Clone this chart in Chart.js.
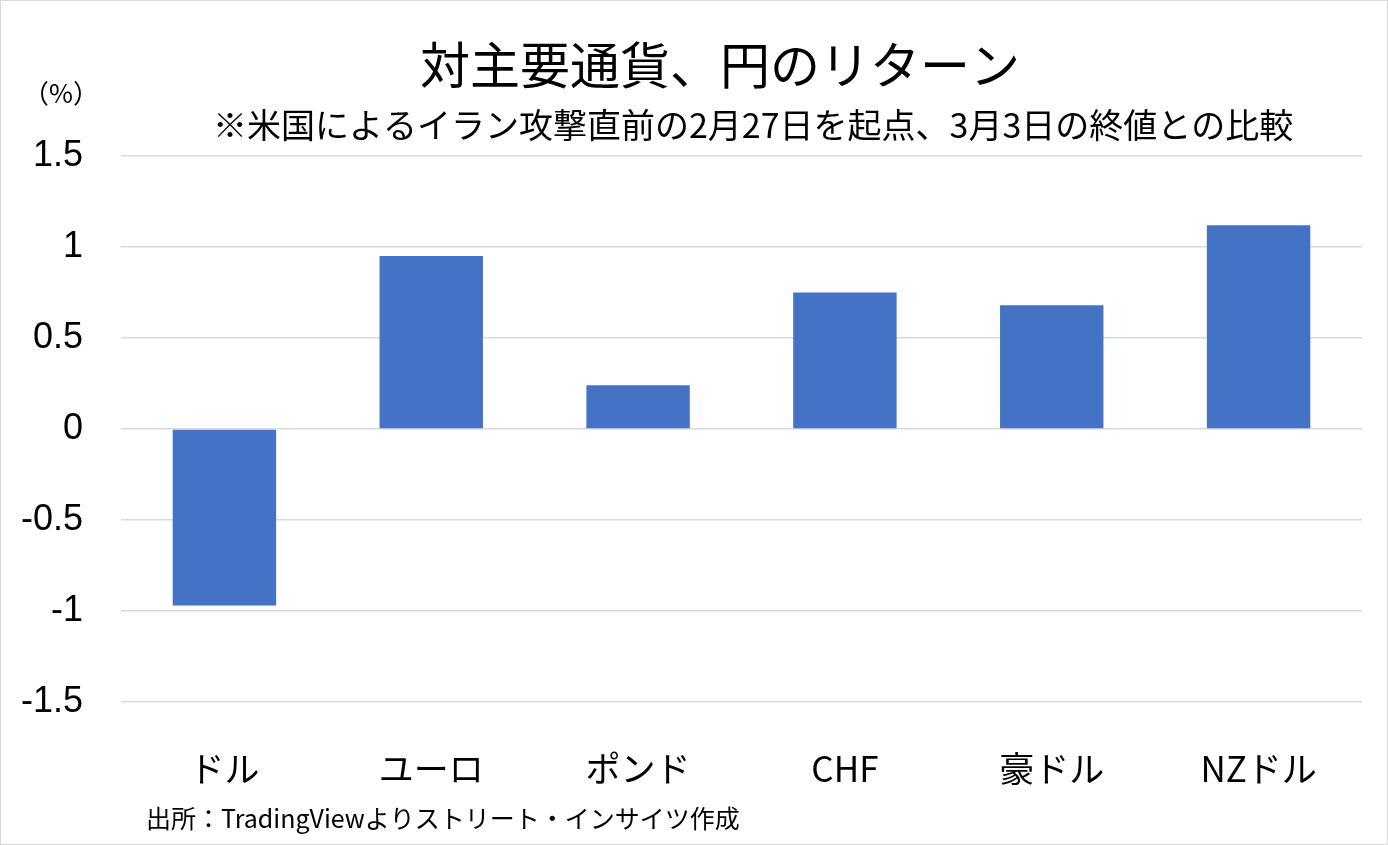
<!DOCTYPE html>
<html>
<head>
<meta charset="utf-8">
<script src="https://cdn.jsdelivr.net/npm/chart.js@4"></script>
<style>
  html,body{margin:0;padding:0;background:#fff;}
  #wrap{width:1386px;height:843px;border:1px solid #d9d9d9;position:relative;}
</style>
</head>
<body>
<div id="wrap"><canvas id="returnChart" width="1386" height="843"></canvas></div>
<script>
    const currencies=["ドル","ユーロ","ポンド","CHF","豪ドル","NZドル"];
    const returns=[-0.97,0.95,0.24,0.75,0.68,1.12];
    const yTicks=[1.5,1,0.5,0,-0.5,-1,-1.5];

    const titleText="対主要通貨、円のリターン";
    const noteText="※米国によるイラン攻撃直前の2月27日を起点、3月3日の終値との比較";
    const unitText="（%）";
    const sourceText="出所：TradingViewよりストリート・インサイツ作成";

    const jpFont="'Noto Sans CJK JP', 'Noto Sans', sans-serif";

    // タイトル・注記・出所を描く
    const textPlugin={
        id: "texts",
        afterDraw(chart) {
            const ctx=chart.ctx;
            ctx.save();
            ctx.fillStyle="#000";
            ctx.textBaseline="middle";
            ctx.textAlign="center";
            ctx.font="50px "+jpFont;
            ctx.fillText(titleText,719,64);
            ctx.font="34px "+jpFont;
            ctx.textAlign="left";
            ctx.fillText(noteText,212,124);
            ctx.font="26px "+jpFont;
            ctx.fillText(unitText,22,92);
            ctx.font="25px "+jpFont;
            ctx.fillText(sourceText,145,817);
            ctx.restore();
        },
    };

    const ctxReturn=document.getElementById("returnChart").getContext("2d");
    const returnChart=new Chart(ctxReturn,{
        type: "bar",
        data: {
            labels: currencies,
            datasets: [{
                label: "リターン",
                data: returns,
                backgroundColor: "#4472C4",
                borderWidth: 0,
                barPercentage: 0.5,
                categoryPercentage: 1,
            }],
        },
        options: {
            responsive: false,
            animation: false,
            layout: {
                padding: {top: 155, right: 25, bottom: 8, left: 0},
            },
            plugins: {
                legend: {display: false},
                tooltip: {enabled: false},
            },
            scales: {
                x: {
                    grid: {display: false, drawTicks: false},
                    border: {display: false},
                    ticks: {
                        color: "#000",
                        padding: 46,
                        font: {family: jpFont, size: 35},
                    },
                },
                y: {
                    min: -1.5,
                    max: 1.5,
                    afterBuildTicks(scale) {
                        scale.ticks=yTicks.map(v => ({value: v}));
                    },
                    afterFit(scale) {
                        scale.width=120;
                    },
                    grid: {color: "#d9d9d9", lineWidth: 1.5, drawTicks: false},
                    border: {display: false},
                    ticks: {
                        color: "#000",
                        padding: 38,
                        font: {family: "'Liberation Sans', Arial, sans-serif", size: 36},
                        callback: function(value) {
                            return String(value);
                        },
                    },
                },
            },
        },
        plugins: [textPlugin],
    });
</script>
</body>
</html>
